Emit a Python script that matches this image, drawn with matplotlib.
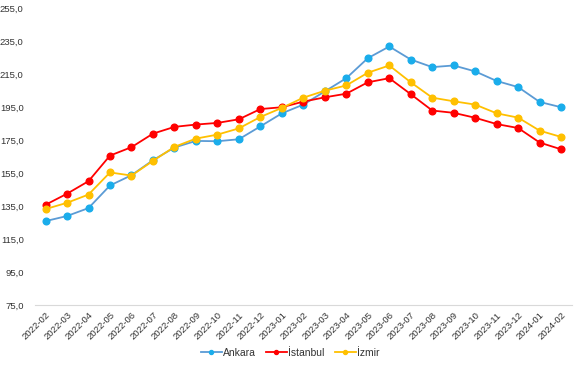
import numpy as np
import matplotlib.pyplot as plt

plt.rcParams['font.family'] = ['Liberation Sans', 'DejaVu Sans']

months = ['2022-02', '2022-03', '2022-04', '2022-05', '2022-06', '2022-07', '2022-08',
          '2022-09', '2022-10', '2022-11', '2022-12', '2023-01', '2023-02', '2023-03',
          '2023-04', '2023-05', '2023-06', '2023-07', '2023-08', '2023-09', '2023-10',
          '2023-11', '2023-12', '2024-01', '2024-02']

ankara = [125.9, 129.0, 133.8, 147.5, 153.7, 162.8, 170.5, 174.5, 174.3, 175.5, 183.3,
          191.2, 196.5, 204.5, 212.5, 224.6, 231.7, 223.8, 219.2, 220.2, 216.6, 210.8,
          207.1, 198.1, 194.9]
istanbul = [135.8, 142.5, 150.1, 165.6, 170.7, 178.9, 183.0, 184.4, 185.4, 187.6, 193.8,
            194.9, 198.3, 200.9, 203.1, 210.0, 212.5, 202.8, 192.9, 191.5, 188.5, 184.7,
            182.3, 173.5, 169.4]
izmir = [133.2, 137.0, 142.0, 155.4, 153.5, 162.4, 170.9, 175.9, 178.3, 182.1, 189.0,
         194.5, 200.7, 204.9, 208.1, 215.8, 220.2, 210.0, 200.7, 198.5, 196.5, 191.2,
         188.6, 180.7, 176.9]

fig = plt.figure(figsize=(5.8, 3.65), dpi=100)
ax = fig.add_axes([0.060, 0.164, 0.926, 0.814])

x = np.arange(len(months))
ax.plot(x, ankara, color='#5B9BD5', lw=1.3, marker='o', ms=4.8,
        mfc='#1AADEB', mec='#1AADEB', label='Ankara')
ax.plot(x, istanbul, color='#FF0000', lw=1.3, marker='o', ms=4.8,
        mfc='#FF0000', mec='#FF0000', label='İstanbul')
ax.plot(x, izmir, color='#FFC000', lw=1.3, marker='o', ms=4.8,
        mfc='#FFC000', mec='#FFC000', label='İzmir')

ax.set_xlim(-0.5, len(months) - 0.5)
ax.set_ylim(75, 255)
ax.set_yticks(np.arange(75, 256, 20))
ax.set_yticklabels([('%.1f' % v).replace('.', ',') for v in np.arange(75, 256, 20)])
ax.set_xticks(x)
ax.set_xticklabels(months, rotation=45, ha='right', rotation_mode='anchor')
ax.tick_params(axis='both', length=0, labelsize=6.8, colors='#333333')
ax.tick_params(axis='y', pad=8)
ax.tick_params(axis='x', pad=4)

for s in ['top', 'right', 'left']:
    ax.spines[s].set_visible(False)
ax.spines['bottom'].set_color('#D9D9D9')

fig.legend(loc='center', bbox_to_anchor=(0.5, 0.033), ncol=3, frameon=False,
           fontsize=7.5, handlelength=2.0, handletextpad=0.1, columnspacing=1.0,
           markerscale=0.6, labelcolor='#333333')

fig.savefig('out.png', dpi=100)
